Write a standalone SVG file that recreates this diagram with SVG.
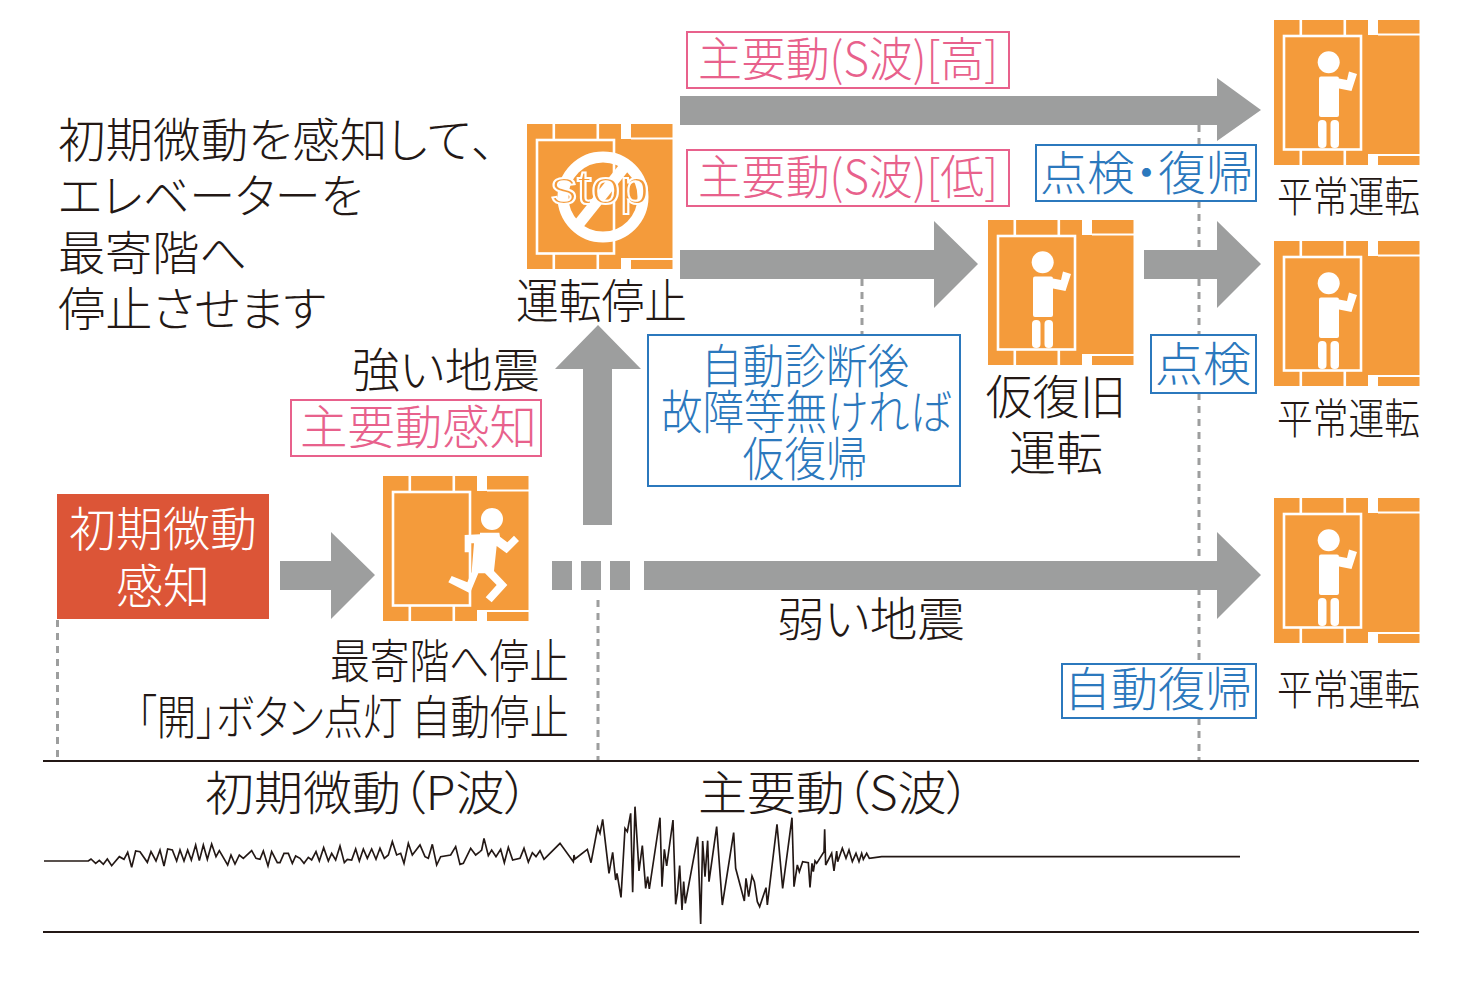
<svg xmlns="http://www.w3.org/2000/svg" width="1464" height="990" viewBox="0 0 1464 990">
<style>
text{font-family:"Noto Sans CJK JP","Noto Sans",sans-serif;font-weight:300;font-size:47px;fill:#231815;font-feature-settings:"palt";font-kerning:none}
.pk{fill:#e8618c}.bl{fill:#2b78bd}.wh{fill:#fff}
.sm{font-size:42px}
.bp{fill:#fff;stroke:#e8618c;stroke-width:2}
.bb{fill:#fff;stroke:#2b78bd;stroke-width:2}
.ar{fill:#9d9e9e}
.dot{fill:none;stroke:#9d9e9e;stroke-width:3;stroke-dasharray:7 6}
.ax{stroke:#231815;stroke-width:1.8;fill:none}
.wv{stroke:#231815;stroke-width:5;fill:none;stroke-linejoin:miter}
.m{text-anchor:middle}
</style>
<defs>
<g id="cab">
<rect width="145.500" height="145" fill="#f49b3b"/>
<g fill="#fff">
<rect x="25.500" width="2.600" height="15"/><rect x="69.500" width="2.600" height="15"/>
<rect x="94" width="10" height="15"/><rect x="104" y="13.500" width="42" height="2"/>
<rect x="25.500" y="130" width="2.600" height="15"/><rect x="69.500" y="130" width="2.600" height="15"/>
<rect x="94" y="134" width="10" height="11"/><rect x="104" y="134" width="42" height="2"/>
</g>
<rect x="10" y="16" width="77" height="113.500" fill="none" stroke="#fff" stroke-width="2.600"/>
</g>
<g id="stand">
<use href="#cab"/>
<g fill="#fff">
<circle cx="54.700" cy="42.300" r="11"/>
<rect x="45" y="56.500" width="20" height="40.500" rx="2"/>
<polygon points="65,58.500 73,60 75,51.500 83,54 77.500,71 65,68.500"/>
<rect x="44" y="100" width="8.500" height="28" rx="4"/>
<rect x="56.500" y="100" width="8.500" height="28" rx="4"/>
</g>
</g>
</defs>
<g id="dotted">
<path class="dot" d="M57.500 620V760M598 600V760M862 279V335M1199 125V145M1199 201V335M1199 393V664M1199 718V760"/>
</g>
<g id="connectors">
<path class="ar" d="M680 96H1217V78L1261 110 1217 141V125H680Z"/>
<path class="ar" d="M680 250H934V221L978 264 934 308V279H680Z"/>
<path class="ar" d="M1144 250H1217V221L1261 264 1217 308V279H1144Z"/>
<path class="ar" d="M644 561H1217V532L1261 575 1217 619V590H644Z"/>
<path class="ar" d="M280 561H331V532L375 575 331 619V590H280Z"/>
<path class="ar" d="M583 525V369H555L598 325 641 369H612V525Z"/>
<rect class="ar" x="552" y="561" width="20" height="29"/>
<rect class="ar" x="581" y="561" width="20" height="29"/>
<rect class="ar" x="610" y="561" width="20" height="29"/>
</g>
<g id="node-p-detect">
<rect x="57" y="494" width="212" height="125" fill="#dc5537"/>
<text class="wh m" x="163" y="546">初期微動</text>
<text class="wh m" x="163" y="603">感知</text>
</g>
<g id="node-run">
<use href="#cab" x="383" y="476"/>
<g transform="translate(370 465) scale(.33333)" fill="#fff">
<circle cx="366" cy="162" r="33"/>
<polygon points="284,210 330,208 330,203 388,203 390,215 412,232 432,212 447,228 410,265 380,243 372,318 412,360 365,412 347,397 380,360 345,325 325,325 300,385 235,352 245,333 292,352 305,320 312,235 300,235 298,262 284,262"/>
</g>
<text x="330" y="678" textLength="239" lengthAdjust="spacingAndGlyphs">最寄階へ停止</text>
<text x="137" y="734" textLength="432" lengthAdjust="spacingAndGlyphs">「開」ボタン点灯 自動停止</text>
</g>
<g id="node-stop">
<use href="#cab" x="527" y="124"/>
<circle cx="603" cy="197" r="40" fill="none" stroke="#fff" stroke-width="11"/>
<line x1="626" y1="165" x2="578" y2="225" stroke="#fff" stroke-width="11"/>
<text x="551" y="204" textLength="98" lengthAdjust="spacingAndGlyphs" style="font-family:'Liberation Sans',sans-serif;font-size:49px;font-weight:400;fill:#f49b3b;stroke:#fff;stroke-width:2">stop</text>
<text x="516" y="318" textLength="171" lengthAdjust="spacingAndGlyphs">運転停止</text>
</g>
<g id="node-tmp">
<use href="#stand" x="988" y="220"/>
<text x="1056" y="414" class="m">仮復旧</text>
<text x="1056" y="470" class="m">運転</text>
</g>
<g id="node-normal1"><use href="#stand" x="1274" y="20"/><text class="sm" x="1277" y="212" textLength="143" lengthAdjust="spacingAndGlyphs">平常運転</text></g>
<g id="node-normal2"><use href="#stand" x="1274" y="241"/><text class="sm" x="1277" y="434" textLength="143" lengthAdjust="spacingAndGlyphs">平常運転</text></g>
<g id="node-normal3"><use href="#stand" x="1274" y="498"/><text class="sm" x="1277" y="705" textLength="143" lengthAdjust="spacingAndGlyphs">平常運転</text></g>
<g id="labels">
<text x="58" y="157" textLength="437" lengthAdjust="spacingAndGlyphs">初期微動を感知して、</text>
<text x="58" y="213" textLength="305" lengthAdjust="spacingAndGlyphs">エレベーターを</text>
<text x="58" y="270" textLength="189" lengthAdjust="spacingAndGlyphs">最寄階へ</text>
<text x="58" y="326" textLength="268" lengthAdjust="spacingAndGlyphs">停止させます</text>
<text x="352" y="387" textLength="188" lengthAdjust="spacingAndGlyphs">強い地震</text>
<text x="777" y="636" textLength="188" lengthAdjust="spacingAndGlyphs">弱い地震</text>
<rect class="bp" x="291" y="400" width="250" height="56"/><text class="pk" x="300" y="444" textLength="237" lengthAdjust="spacingAndGlyphs">主要動感知</text>
<rect class="bp" x="687" y="32" width="322" height="56"/><text class="pk" x="698" y="76" textLength="300" lengthAdjust="spacingAndGlyphs">主要動(S波)[高]</text>
<rect class="bp" x="687" y="150" width="322" height="56"/><text class="pk" x="698" y="194" textLength="300" lengthAdjust="spacingAndGlyphs">主要動(S波)[低]</text>
<rect class="bb" x="1036" y="145" width="220" height="56"/><text class="bl" x="1040" y="190" textLength="213" lengthAdjust="spacingAndGlyphs">点検・復帰</text>
<rect class="bb" x="648" y="335" width="312" height="151"/>
<text class="bl m" x="805" y="383" textLength="208" lengthAdjust="spacingAndGlyphs">自動診断後</text><text class="bl m" x="806" y="429" textLength="290" lengthAdjust="spacingAndGlyphs">故障等無ければ</text><text class="bl m" x="805" y="476" textLength="125" lengthAdjust="spacingAndGlyphs">仮復帰</text>
<rect class="bb" x="1151" y="335" width="105" height="58"/><text class="bl" x="1155" y="381" textLength="96" lengthAdjust="spacingAndGlyphs">点検</text>
<rect class="bb" x="1062" y="664" width="194" height="54"/><text class="bl" x="1064" y="706" textLength="188" lengthAdjust="spacingAndGlyphs">自動復帰</text>
</g>
<g id="seismograph">
<path class="ax" d="M43 761H1419M43 932H1419"/>
<text x="205" y="810" textLength="324" lengthAdjust="spacingAndGlyphs">初期微動（P波）</text>
<text x="698" y="810" textLength="273" lengthAdjust="spacingAndGlyphs">主要動（S波）</text>
<polyline class="wv" transform="translate(30 800) scale(.33333)" points="42,183 175,183 183,177 197,190 208,181 220,193 232,177 245,197 268,170 282,178 293,157 305,202 317,153 330,155 352,187 363,155 378,183 390,150 402,198 413,147 427,150 440,183 450,150 462,183 473,150 484,180 497,135 508,182 520,135 532,178 545,132 558,170 568,152 593,195 603,165 615,192 628,165 640,175 665,152 678,175 690,178 700,153 714,198 725,155 742,188 750,188 762,160 775,160 787,190 797,168 810,175 822,190 835,172 845,180 858,155 868,183 881,143 895,183 905,160 917,180 930,138 943,188 952,178 965,180 977,147 988,183 1000,147 1012,175 1025,147 1038,178 1050,145 1063,175 1075,165 1087,125 1100,165 1112,160 1122,190 1135,130 1147,165 1170,135 1185,170 1195,175 1207,133 1220,195 1232,170 1262,165 1277,140 1290,193 1300,190 1322,145 1337,165 1350,155"/>
<polyline class="wv" transform="translate(470 790) scale(.33333)" points="30,185 35,180 42,145 55,197 65,180 78,200 92,178 103,218 115,172 128,210 150,205 162,175 175,216 187,188 198,200 210,182 222,208 270,160 310,215 312,195 315,207 352,178 363,218 383,112 390,130 398,88 417,250 428,187 437,270 441,250 453,322 465,115 472,125 482,70 488,307 495,50 507,243 517,167 527,295 533,260 538,297 570,83 576,290 583,178 590,228 609,90 617,343 622,310 629,227 636,360 641,275 646,340 683,140 692,402 698,153 705,260 713,152 717,275 740,110 757,345 791,128 797,235 823,333 828,265 836,320 846,258 853,275 862,335 869,350 888,293 892,345 921,103 938,295 966,83 972,290 982,225 988,245 998,215 1015,218 1020,292 1026,220 1030,245 1035,213 1040,220 1062,185 1064,118 1067,225 1085,190 1092,243 1100,183 1103,215 1117,175 1128,205 1137,180 1147,215 1158,190 1167,215 1175,190 1180,208 1190,190 1198,205 1235,200 2310,200"/>
</g>
</svg>
